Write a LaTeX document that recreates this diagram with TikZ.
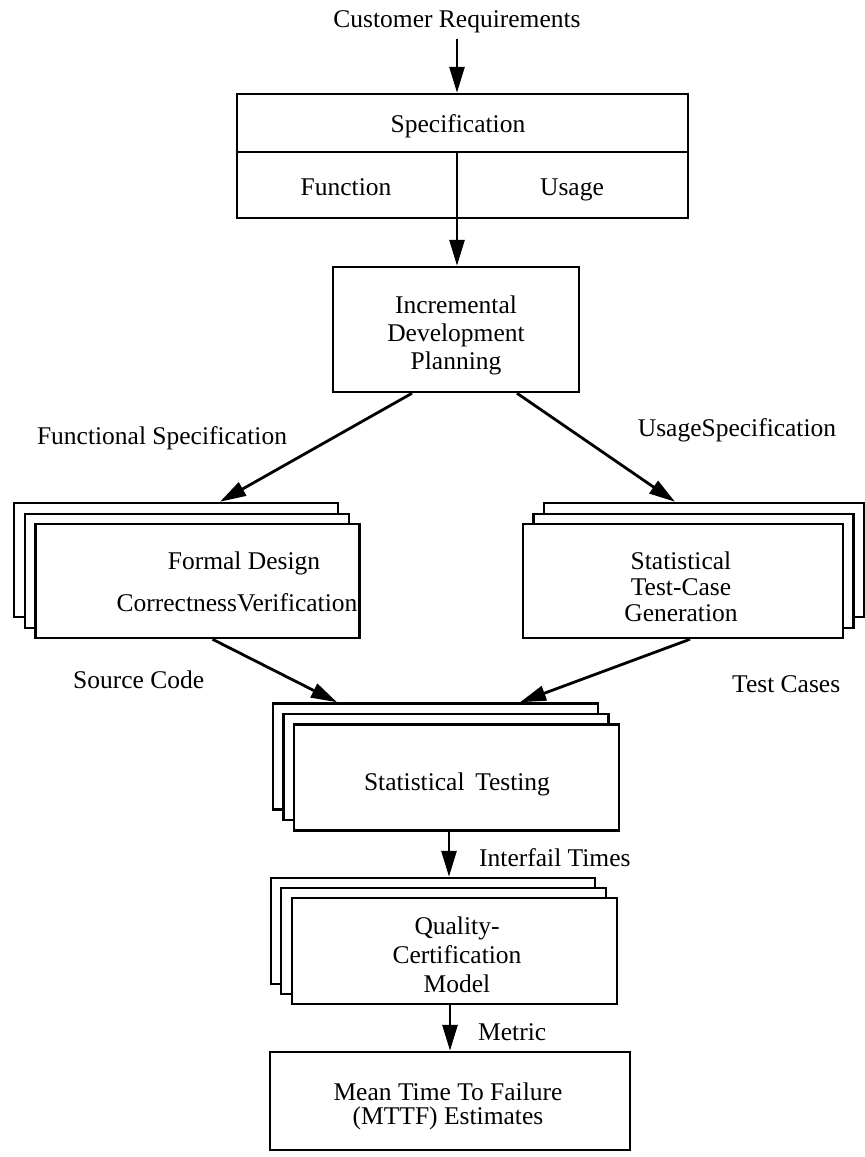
\documentclass[tikz,border=0pt]{standalone}
\usepackage{fontspec}
\setmainfont{Liberation Serif}
\usetikzlibrary{arrows.meta,calc}
\begin{document}
\begin{tikzpicture}[x=1pt,y=-1pt,
  every node/.style={font=\fontsize{25.5}{28}\selectfont, inner sep=0pt},
  box/.style={draw, line width=2.5pt, fill=white, rectangle},
  lbl/.style={anchor=base},
  arr/.style={line width=2.8pt, -{Triangle[length=26pt,width=15pt]}},
  ln/.style={line width=2.5pt}]
\useasboundingbox (0,0) rectangle (865,1157);

% Customer requirements and specification
\node[lbl] (cr) at (457,27) {Customer Requirements};
\node[box, minimum width=451pt, minimum height=124pt] (spec) at (462.5,156) {};
\coordinate (mx) at (457,0);
\coordinate (ml) at (0,152);
\draw[ln] (spec.west |- ml) -- (spec.east |- ml);
\draw[ln] (mx |- ml) -- (mx |- spec.south);
\node[lbl] (spect) at (458,132) {Specification};
\node[lbl] (fun) at (346,195) {Function};
\node[lbl] (use) at (572,195) {Usage};
\draw[arr] (cr.south -| mx) ++(0,6) -- (spec.north -| mx);

% Incremental development planning
\node[box, minimum width=246pt, minimum height=125pt] (inc) at (456,329.5) {};
\node[lbl] (inc1) at (456,313) {Incremental};
\node[lbl] (inc2) at (456,341) {Development};
\node[lbl] (inc3) at (456,369) {Planning};
\draw[arr] (mx |- ml) -- (inc.north -| mx);

% Left stack
\node[box, minimum width=324pt, minimum height=114pt] (fdb) at (176,560) {};
\node[box, minimum width=324pt, minimum height=114pt] (fdm) at (187,571) {};
\node[box, minimum width=324pt, minimum height=114pt] (fd) at (197.5,581) {};
\node[lbl] (fdt1) at (244,569) {Formal Design};
\node[lbl] (fdt2) at (237,611) {CorrectnessVerification};

% Right stack
\node[box, minimum width=320pt, minimum height=114pt] (tcb) at (704,560) {};
\node[box, minimum width=320pt, minimum height=114pt] (tcm) at (693.5,571) {};
\node[box, minimum width=320pt, minimum height=114pt] (tc) at (683,581) {};
\node[lbl] (tc1) at (681,569) {Statistical};
\node[lbl] (tc2) at (681,595) {Test-Case};
\node[lbl] (tc3) at (681,621) {Generation};

% Arrows from planning
\node[lbl] (fsl) at (162,444) {Functional Specification};
\node[lbl] (usl) at (737,436) {UsageSpecification};
\draw[arr] ([xshift=-44pt]inc.south) -- ([xshift=44pt]fdb.north);
\draw[arr] ([xshift=61pt]inc.south) -- ([xshift=-29pt]tcb.north);

% Statistical testing stack
\node[box, minimum width=325pt, minimum height=106pt] (stb) at (435.5,756.5) {};
\node[box, minimum width=325pt, minimum height=106pt] (stm) at (446,767) {};
\node[box, minimum width=325pt, minimum height=106pt] (st) at (456.5,777.5) {};
\node[lbl] (stt) at (457,790) {Statistical\ \,Testing};

\node[lbl, anchor=base west] (scl) at (73,688) {Source Code};
\node[lbl, anchor=base west] (tcl) at (732,692) {Test Cases};
\draw[arr] ([xshift=15pt]fd.south) -- ([xshift=-98.5pt]stb.north);
\draw[arr] ([xshift=7pt]tc.south) -- ([xshift=84.5pt]stb.north);

% Quality certification stack
\node[box, minimum width=324pt, minimum height=106pt] (qb) at (433,931) {};
\node[box, minimum width=325pt, minimum height=106pt] (qm) at (443.5,941) {};
\node[box, minimum width=325pt, minimum height=106pt] (q) at (454.5,951) {};
\node[lbl] (q1) at (457,934) {Quality-};
\node[lbl] (q2) at (457,963) {Certification};
\node[lbl] (q3) at (457,992) {Model};
\coordinate (v2) at (449,0);
\draw[arr] (st.south -| v2) -- (qb.north -| v2);
\node[lbl, anchor=base west] (ift) at (479,866) {Interfail Times};

% MTTF
\node[box, minimum width=360pt, minimum height=98pt] (mt) at (450,1101) {};
\node[lbl] (mt1) at (448,1100) {Mean Time To Failure};
\node[lbl] (mt2) at (448,1124) {(MTTF) Estimates};
\coordinate (v3) at (450,0);
\draw[arr] (q.south -| v3) -- (mt.north -| v3);
\node[lbl, anchor=base west] (met) at (478,1040) {Metric};
\end{tikzpicture}
\end{document}
